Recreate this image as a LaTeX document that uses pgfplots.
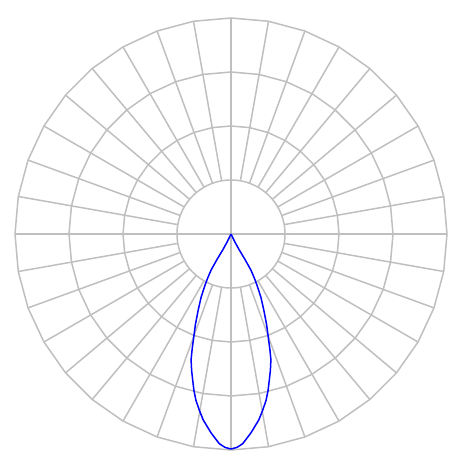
\documentclass[border=0pt]{standalone}
\usepackage{pgfplots}
\pgfplotsset{compat=1.18}
\definecolor{gridgray}{RGB}{191,191,191}

\begin{document}
\begin{tikzpicture}
\begin{axis}[
    width=465bp, height=465bp, scale only axis,
    xmin=-231, xmax=234, ymin=-231, ymax=234,
    axis line style={draw=none}, ticks=none,
    clip=false,
    gridline/.style={gridgray, line width=1.5bp, line join=round, mark=none, forget plot},
]
% rings (polygons between the spokes), inner one round
\addplot[gridline, data cs=polar, domain=0:360, samples=181] (x,54);
\addplot[gridline, data cs=polar, domain=0:360, samples=37] (x,108);
\addplot[gridline, data cs=polar, domain=0:360, samples=37] (x,162);
\addplot[gridline, data cs=polar, domain=0:360, samples=37] (x,216);
% spokes every 10 degrees
\pgfplotsinvokeforeach{0,10,...,350}{
  \addplot[gridline, data cs=polar] coordinates {(#1,54) (#1,216)};
}
\addplot[gridline] coordinates {(-54,0) (54,0)};
\addplot[gridline] coordinates {(0,-54) (0,54)};

% intensity curve (angle, radius), 270 = straight down
\addplot[blue, line width=1.5bp, line join=round, mark=none, data cs=polar] coordinates {
  (270,0)
  (244.0,9) (242.6,18) (241.2,30) (241.1,41) (242.0,49) (243.0,57) (244.7,70) (246.7,83)
  (248.5,97) (250.4,112) (251.4,122) (252.4,132) (253.9,142) (255.3,151) (256.7,161)
  (258.1,170) (259.8,179) (261.5,188) (264.3,200) (266.8,210) (268.4,213.5) (270,215)
  (271.6,213.5) (273.2,210) (275.7,200) (278.5,188) (280.2,179) (281.9,170) (283.3,161)
  (284.7,151) (286.1,142) (287.6,132) (288.6,122) (289.6,112) (291.5,97) (293.3,83)
  (295.3,70) (297.0,57) (298.0,49) (298.9,41) (298.8,30) (297.4,18) (296.0,9)
  (270,0)
};
\end{axis}
\end{tikzpicture}
\end{document}
